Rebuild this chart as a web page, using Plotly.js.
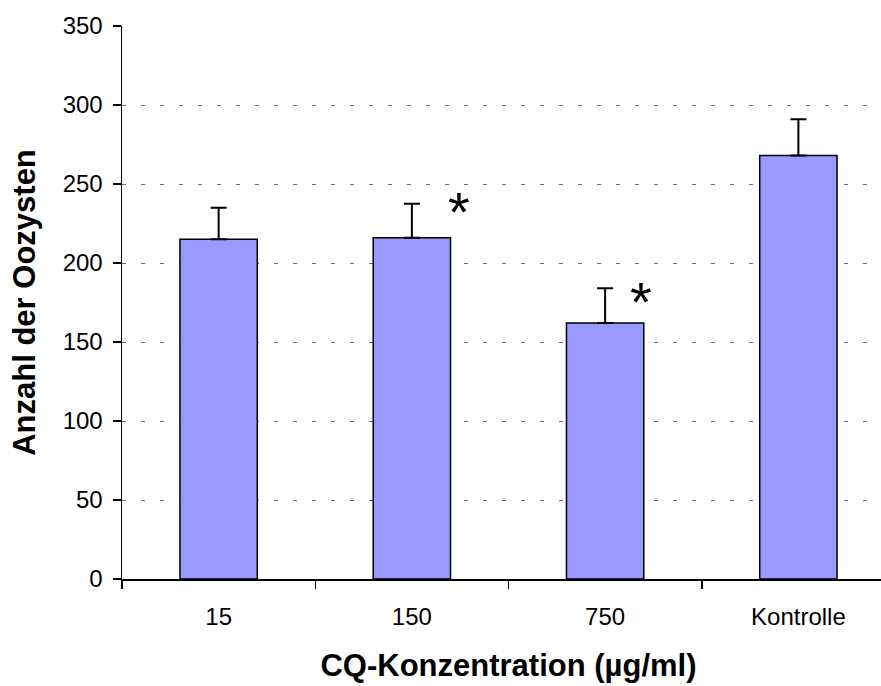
<!DOCTYPE html>
<html>
<head>
<meta charset="utf-8">
<script src="https://cdn.plot.ly/plotly-3.0.1.min.js"></script>
<style>
html,body{margin:0;padding:0;overflow:hidden;background:#fff;}
#chart{width:895px;height:686px;}
</style>
</head>
<body>
<div id="chart"></div>
<script>
const categories = ['15', '150', '750', 'Kontrolle'];
const counts = [215, 216, 162, 268];
const errors = [20, 21.5, 22, 23];
const sigCategories = ['150', '750'];
const sigY = [237, 180];
const sigShift = [47, 36];

const trace = {
  type: 'bar',
  x: categories,
  y: counts,
  width: 0.4,
  marker: {color: '#9999FF', line: {color: '#000000', width: 1.5}},
  error_y: {type: 'data', array: errors, symmetric: false, arrayminus: [0,0,0,0], color: '#000000', thickness: 2, width: 8}
};

const annotations = sigCategories.map((c, i) => ({
  x: categories.indexOf(c), y: sigY[i], xref: 'x', yref: 'y', xshift: sigShift[i],
  text: '*', showarrow: false,
  font: {family: 'Liberation Sans, Arial, sans-serif', size: 56, color: '#000'},
  yanchor: 'middle', xanchor: 'center', yshift: -7
}));

const layout = {
  width: 895, height: 686,
  margin: {l: 122, r: 0, t: 25.5, b: 107},
  paper_bgcolor: '#fff', plot_bgcolor: '#fff',
  showlegend: false,
  font: {family: 'Liberation Sans, Arial, sans-serif', color: '#000', size: 24},
  xaxis: {
    type: 'category', range: [-0.5, 3.5], autorange: false,
    showline: true, linecolor: '#000', linewidth: 1.5,
    ticks: 'outside', tickson: 'boundaries', ticklen: 8, tickcolor: '#000', tickwidth: 1.5,
    showgrid: false, zeroline: false,
    tickfont: {size: 24}, tickangle: 0, ticklabelstandoff: 16,
    automargin: false,
    title: {text: 'CQ-Konzentration (µg/ml)', font: {size: 31, weight: 'bold'}, standoff: 25}
  },
  yaxis: {
    range: [0, 350], dtick: 50, autorange: false,
    showline: true, linecolor: '#000', linewidth: 1.5,
    ticks: 'outside', ticklen: 8, tickcolor: '#000', tickwidth: 1.5,
    showgrid: true, gridcolor: '#6f6f6f', gridwidth: 1, griddash: '4px,15px',
    zeroline: false,
    tickfont: {size: 24}, ticklabelstandoff: 5,
    automargin: false,
    title: {text: 'Anzahl der Oozysten', font: {size: 31, weight: 'bold'}, standoff: 18}
  },
  annotations: annotations
};

Plotly.newPlot('chart', [trace], layout, {displayModeBar: false, staticPlot: true});
</script>
</body>
</html>
